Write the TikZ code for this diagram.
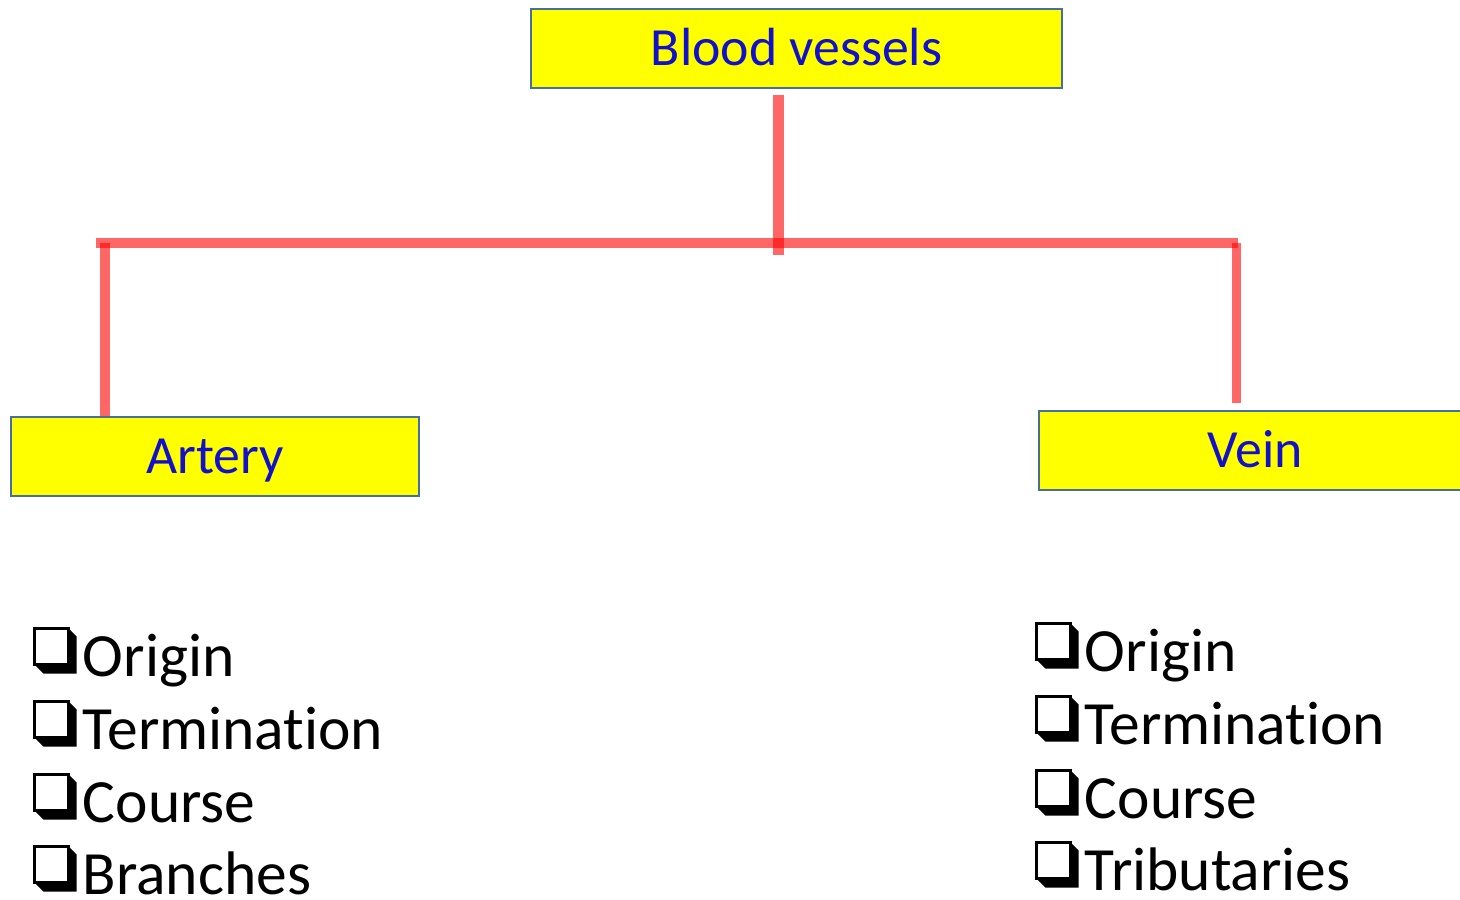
\documentclass[tikz,border=0pt]{standalone}
\usepackage{fontspec}
\usepackage{xcolor}
\usepackage{tikz}
\setmainfont{Carlito}[Ligatures=NoCommon]

\definecolor{boxyellow}{RGB}{255,255,0}
\definecolor{boxedge}{RGB}{70,110,160}
\definecolor{titleblue}{RGB}{17,17,204}

% shadowed square bullet
\newcommand{\chkbox}{\tikz[baseline=0pt,x=1em,y=1em]{
	\fill[black] (0.56,0.78) -- (0.7,0.64) -- (0.7,0.04) -- (0.16,0.04) -- (0.02,0.18) -- (0.56,0.18) -- cycle;
	\draw[black,line width=0.05em,fill=white] (0.02,0.18) rectangle (0.56,0.78);
}\hspace{0.1em}}

\begin{document}
\begin{tikzpicture}[
	x=0.02cm,y=-0.02cm,
	yellowbox/.style={rectangle,draw=boxedge,line width=1pt,fill=boxyellow,inner sep=0pt,
		text=titleblue,font=\fontsize{30.6}{36}\selectfont,text height=19pt,text depth=0pt},
	branch/.style={red,opacity=0.6,line width=0.21cm},
	item/.style={anchor=base west,inner sep=0pt,font=\fontsize{35}{42}\selectfont}
]
	\useasboundingbox (0,0) rectangle (1460,899);
	\clip (0,0) rectangle (1460,899);

	\node[yellowbox,minimum width=10.62cm,minimum height=1.58cm] (vessels) at (796.5,48.5) {Blood vessels};
	\node[yellowbox,minimum width=8.16cm,minimum height=1.58cm] (artery) at (215,456.5) {Artery};
	\node[yellowbox,minimum width=8.64cm,minimum height=1.58cm] (vein) at (1255,450.5) {Vein};

	\coordinate (stem top) at (778.5,95);
	\coordinate (stem foot) at (778.5,255);
	\coordinate (bar left) at (96,243);
	\coordinate (bar right) at (1238,243);
	\coordinate (artery top) at (105,243);
	\coordinate (vein top) at (1236.5,243);

	\draw[branch] (stem top) -- (stem foot);
	\draw[branch] (bar left) -- (bar right);
	\draw[branch,line width=0.19cm] (artery top) -- (artery.north -| artery top);
	\draw[branch,line width=0.19cm] (vein top) -- ([yshift=0.14cm]vein.north -| vein top);

	\node[item] (artery origin) at (33,676) {\chkbox Origin};
	\node[item] (artery termination) at (33,749) {\chkbox Termination};
	\node[item] (artery course) at (33,822) {\chkbox Course};
	\node[item] (artery branches) at (33,894) {\chkbox Branches};

	\node[item] (vein origin) at (1035,671) {\chkbox Origin};
	\node[item] (vein termination) at (1035,744) {\chkbox Termination};
	\node[item] (vein course) at (1035,818) {\chkbox Course};
	\node[item] (vein tributaries) at (1035,890) {\chkbox Tributaries};
\end{tikzpicture}
\end{document}
